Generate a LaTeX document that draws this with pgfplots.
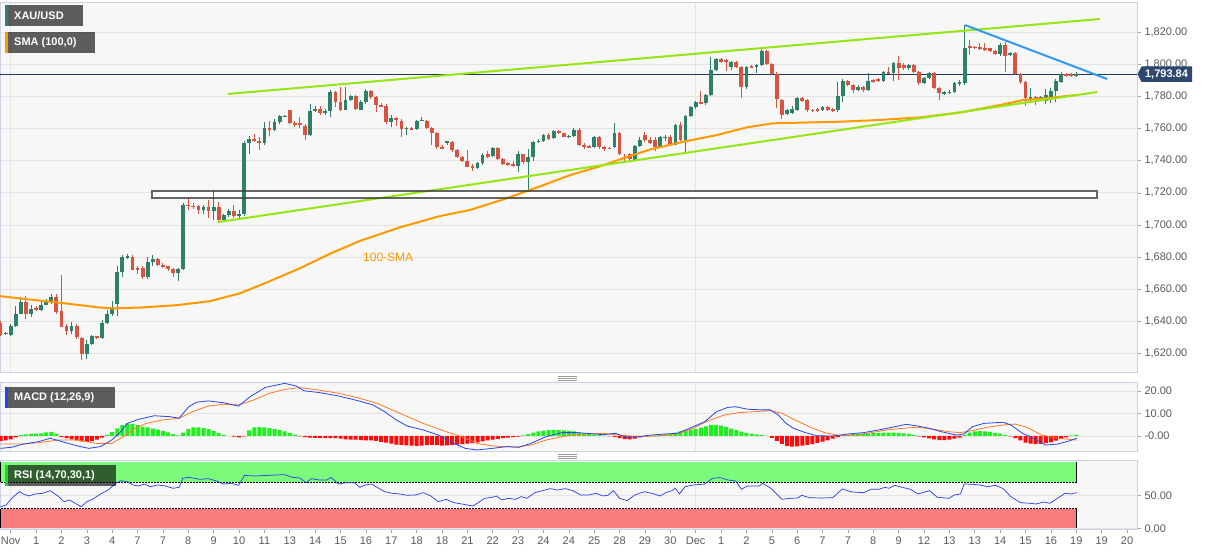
\documentclass[border=0pt]{standalone}
\usepackage{fontspec}
\setmainfont{Liberation Sans}
\usepackage{pgfplots}
\usepackage{pgfplotstable}
\pgfplotsset{compat=1.18}
\definecolor{bgc}{RGB}{247,247,247}
\definecolor{bordc}{RGB}{204,210,228}
\definecolor{gridc}{RGB}{228,228,228}
\definecolor{cup}{RGB}{46,128,104}
\definecolor{cdn}{RGB}{217,84,64}
\definecolor{sma}{RGB}{255,153,0}
\definecolor{trendg}{RGB}{150,230,20}
\definecolor{trendb}{RGB}{51,153,238}
\definecolor{navy}{RGB}{32,58,92}
\definecolor{tagc}{RGB}{44,72,110}
\definecolor{labc}{RGB}{90,90,90}
\definecolor{macdb}{RGB}{40,70,230}
\definecolor{macdo}{RGB}{255,120,40}
\definecolor{hgreen}{RGB}{30,240,30}
\definecolor{hred}{RGB}{255,10,10}
\definecolor{rsig}{RGB}{124,250,124}
\definecolor{rsir}{RGB}{249,124,124}
\definecolor{rsil}{RGB}{40,60,230}
\definecolor{rsiacc}{RGB}{40,210,40}

\pgfplotstableread{
k o h l c
-1 1632.2 1633.5 1631.5 1632.8
0 1631.7 1638.4 1630.5 1636.9
1 1636.9 1649.2 1636.3 1644.6
2 1644.6 1655 1644.2 1651.9
4 1644.2 1650.4 1642.5 1647.7
6 1646.7 1652.9 1646.3 1650.4
7 1650.4 1654 1649.8 1651.9
8 1651.9 1657.1 1650.8 1655
12 1633.8 1639.4 1632.2 1637.3
15 1619.7 1628 1616.6 1625.5
16 1625.5 1631.7 1624.9 1630.5
18 1629.7 1640.5 1629 1638.8
19 1638.8 1646.7 1638 1644.6
20 1644.6 1652.9 1643 1648.7
21 1650.8 1674.7 1643 1670.6
22 1670.6 1681 1667.5 1679.9
23 1679.9 1682 1678.9 1680.5
27 1667.5 1680.3 1666 1676.8
28 1676.8 1681 1674.1 1678.5
33 1670.2 1673.3 1665 1672.6
34 1672.6 1713.6 1671.6 1712.7
38 1709.4 1712.7 1706.5 1711.1
40 1708.6 1721.9 1702.8 1711.1
42 1703.2 1706.9 1702.3 1705.9
43 1705.9 1710 1704.8 1708.6
45 1705.5 1709 1704.4 1706.9
46 1706.9 1752 1705.5 1750.9
47 1750.9 1755.7 1744.3 1753.6
50 1750.9 1764 1750.1 1760.5
52 1759.2 1766.1 1758.8 1764
53 1764 1768.2 1763 1767.7
54 1767.3 1768.8 1767.1 1767.9
59 1756.1 1775.4 1755.7 1770.9
60 1770.9 1773.8 1770.2 1772.3
62 1769.6 1772.3 1768.2 1770.9
63 1770.9 1784.2 1767.1 1782.7
66 1771.7 1785.8 1771.3 1778.1
67 1778.1 1781.2 1777.5 1780.6
69 1771.7 1777.9 1771.3 1776.5
70 1776.5 1784.8 1775.4 1783.3
75 1764 1768.2 1761.3 1766.5
78 1760.1 1761.3 1756.3 1760.5
80 1759.9 1765.5 1759.2 1765
81 1765 1767.1 1764.6 1765.5
86 1751.5 1752.6 1750.1 1752
92 1735.6 1739.1 1734.7 1738.5
93 1738.5 1744.7 1737.6 1743.6
95 1743 1748.8 1742.2 1748
100 1737 1745.9 1732.9 1743.9
102 1739.1 1747.4 1720.4 1742.6
103 1742.6 1752.6 1740.1 1751.5
104 1751.5 1753.6 1750.9 1752.6
105 1752.2 1756.7 1751.5 1756.1
107 1753.9 1759.4 1753.3 1758.6
110 1754.9 1756.2 1754.1 1755.5
111 1755.3 1760.2 1754.5 1759.4
115 1748.4 1755.3 1748 1754.5
119 1748.4 1763.7 1748 1757.4
123 1740.5 1750 1739.7 1749.4
124 1749.4 1754.5 1748.8 1753.1
128 1748.4 1755.3 1748 1754.5
129 1754 1756 1752 1755
131 1750 1763 1749.5 1762.2
133 1752.9 1768.5 1745.6 1767.9
134 1767.9 1774 1767 1773.3
135 1773.3 1777.5 1772.5 1776.8
137 1775.7 1781.8 1775 1781
138 1781 1804.4 1780.3 1796.5
139 1796.5 1804 1795.8 1803.2
142 1798.6 1802.3 1796.5 1801.7
145 1786.1 1799 1784.5 1798.6
147 1799 1800.3 1794.4 1799.6
148 1799.6 1809.4 1799 1808.6
153 1769.3 1772 1768.5 1771.6
154 1769.5 1774.1 1769 1772
155 1771.6 1780 1771 1778.9
160 1771.6 1774 1771 1773.3
163 1771.6 1789.2 1770.5 1780.3
164 1780.3 1790.7 1776.8 1789.9
167 1784.1 1787 1783.5 1786.1
169 1784.1 1794.8 1783.6 1789.9
172 1789.9 1796.1 1789 1795.5
174 1794.4 1801.5 1789.9 1800.7
177 1797.5 1800.5 1796.8 1799.6
180 1788.2 1792 1787.5 1791.3
181 1791.3 1795.3 1790.7 1794.8
184 1782 1783.2 1781 1782.6
185 1782.4 1784 1781.5 1783
186 1783 1789 1782.4 1788.2
187 1788.2 1790 1786.5 1788.8
188 1788.2 1824.5 1787 1810
195 1806.3 1813.1 1805.5 1812.1
197 1805.9 1808 1805 1807.3
201 1778.2 1785 1775.7 1779.5
203 1778.9 1780.5 1778 1779.9
204 1777.4 1785 1775.5 1781
205 1779.9 1785.1 1776 1783.6
206 1783.6 1791 1776.5 1789.6
207 1789.2 1795.3 1788.5 1794.1
210 1792.6 1795.5 1792.2 1793.84
}\upc

\pgfplotstableread{
k o h l c
-2 1638.8 1640 1631 1631.7
3 1651.9 1656 1641.5 1644.6
5 1648.1 1649.2 1646.3 1646.7
9 1655 1657.1 1644.6 1645.6
10 1646.1 1668.9 1636.3 1636.7
11 1636.9 1638.4 1631.7 1633.8
13 1637.3 1638.4 1629 1630
14 1629.4 1630.1 1616 1619.7
17 1630.5 1630.9 1629 1629.7
24 1680.3 1681 1671.6 1672.2
25 1673.3 1674.7 1669.5 1672.4
26 1673.3 1674.1 1666 1667.5
29 1678.5 1679.5 1674.1 1675.3
30 1675.3 1676.2 1673.1 1674.1
31 1674.1 1674.7 1671.6 1672.6
32 1672.6 1673.3 1667.5 1670.2
35 1712.7 1716.9 1709.4 1711.5
36 1711.9 1713.6 1710 1711.1
37 1711.5 1712.7 1706.9 1709.4
39 1711.1 1715.6 1704.4 1708.6
41 1711.1 1714.2 1701.1 1703.2
44 1708.6 1712.7 1704.4 1705.5
48 1753.6 1756.7 1751.5 1752.2
49 1752.2 1754.7 1746.8 1750.9
51 1760.5 1765 1755.7 1759.2
55 1771.7 1771.9 1762.6 1763.4
56 1763.4 1765 1760.9 1762.6
57 1763.4 1767.1 1760.1 1762.6
58 1761.9 1763 1753 1756.1
61 1772.3 1774.4 1768.8 1769.6
64 1782.7 1783.3 1773.4 1776.5
65 1776.5 1786.2 1770.9 1771.7
68 1780.6 1781.2 1771.7 1772.3
71 1783.3 1784.2 1778.5 1779.6
72 1779.6 1780.6 1770.2 1774.8
73 1774.8 1775.8 1773.4 1774
74 1774.4 1775.4 1763 1764
76 1766.5 1767.5 1761.9 1765.7
77 1765 1766.1 1754.7 1759.9
79 1760.5 1760.9 1759.2 1759.6
82 1765 1765.5 1759.9 1760.5
83 1760.5 1761.3 1750.1 1757.2
84 1757.2 1757.8 1747.4 1748.4
85 1748.4 1749.5 1747.2 1747.8
87 1751.5 1752.2 1745.3 1746.8
88 1746.8 1747.4 1741.8 1742.6
89 1742.6 1743.2 1739.1 1739.7
90 1739.7 1746.4 1736 1736.4
91 1736.8 1738 1733.9 1736
94 1743.9 1745.9 1741.8 1742.6
96 1748 1748.8 1740.5 1741.2
97 1741.2 1741.8 1737.4 1738
98 1738.5 1739.1 1737 1737.6
99 1738 1740.1 1736 1737.2
101 1743.9 1744.3 1738 1739.1
106 1756.1 1757.2 1752.6 1753.6
108 1758.6 1759.4 1756.6 1757
109 1757 1757.4 1754.5 1754.9
112 1759.4 1760.6 1749 1750.1
113 1750.1 1751.3 1747.6 1748.8
114 1749 1749.6 1747.8 1748.4
116 1754.5 1755.3 1747.6 1748.4
117 1748.4 1749 1746.2 1747.6
118 1748 1748.8 1747.2 1747.4
120 1757.4 1758 1743.3 1743.9
121 1742.4 1744.3 1740.1 1741.8
122 1743.9 1744.7 1739.7 1741.2
125 1756.2 1758.2 1751.6 1753.1
126 1753.1 1754.5 1750.4 1751
127 1753.1 1754.5 1746.2 1748.4
130 1755 1756 1749 1750
132 1762.2 1764 1752 1752.9
136 1776.8 1783.6 1775.2 1775.7
140 1803.2 1803.8 1800.8 1801.7
141 1802.7 1803.2 1796.1 1801.3
143 1801.7 1802.3 1798 1798.6
144 1798.6 1799.2 1778.9 1786.1
146 1799 1799.8 1797.5 1798.2
149 1808.6 1809 1799.5 1800.2
150 1800.2 1800.8 1793.4 1794
151 1794 1795 1772.6 1778.2
152 1777.8 1778.5 1765.8 1768.5
156 1778.9 1779.5 1776.8 1777.4
157 1777.8 1778.2 1770.5 1771.6
158 1771.8 1772.5 1770.6 1771.3
159 1772 1772.6 1770.5 1771.2
161 1773.3 1774 1771 1771.6
162 1772.2 1772.6 1770.5 1771.2
165 1789.9 1790.5 1786.5 1787.2
166 1787.2 1787.8 1782.4 1784.1
168 1786.1 1786.8 1783 1784.1
170 1790.3 1791 1788.5 1789.2
171 1790.7 1791.3 1789 1789.9
173 1795.5 1798.2 1793.8 1794.4
175 1800.7 1805.2 1790.3 1797.5
176 1799.5 1801 1796.5 1797.5
178 1799.6 1800.2 1794.8 1795.5
179 1795.5 1796 1787.2 1788.2
182 1794.8 1795.3 1784.5 1785.1
183 1785.1 1786 1777.8 1782
189 1811.5 1815.2 1805.9 1810.6
190 1811 1811.5 1809.4 1810.2
191 1810.6 1813.1 1809 1809.6
192 1810.2 1813.1 1808.5 1809.6
193 1810 1810.5 1808 1808.6
194 1808.6 1809 1805.9 1806.5
196 1812.1 1814.2 1795.5 1805.2
198 1806.9 1807.5 1793.4 1794
199 1794 1794.4 1787.8 1789.2
200 1789.2 1789.6 1774.1 1778.9
202 1779.5 1780.2 1774.7 1778.2
208 1794.1 1794.8 1792 1792.8
209 1794.1 1794.6 1792.3 1792.8
}\dnc

\pgfplotstableread[row sep=\\]{
k v\\ -2 -2.2\\ -1 -2.0\\ 0 -1.5\\ 1 -0.6\\ 2 0.4\\ 3 0.7\\ 4 0.9\\ 5 1.0\\ 6 1.2\\ 7 1.6\\
8 1.8\\ 9 1.0\\ 10 -0.4\\ 11 -0.9\\ 12 -1.5\\ 13 -2.0\\ 14 -2.4\\ 15 -2.6\\ 16 -2.3\\ 17 -1.6\\
18 -0.7\\ 19 0.5\\ 20 1.8\\ 21 3.4\\ 22 4.8\\ 23 5.6\\ 24 5.4\\ 25 4.8\\ 26 4.2\\ 27 3.8\\
28 3.3\\ 29 2.8\\ 30 2.2\\ 31 1.6\\ 32 0.8\\ 33 0.3\\ 34 1.5\\ 35 3.0\\ 36 3.8\\ 37 3.8\\
38 3.5\\ 39 3.0\\ 40 2.2\\ 41 1.3\\ 42 0.5\\ 43 0.1\\ 44 -0.3\\ 45 -0.6\\ 46 -0.2\\ 47 2.5\\
48 3.8\\ 49 3.9\\ 50 3.8\\ 51 3.5\\ 52 3.1\\ 53 2.6\\ 54 2.0\\ 55 1.4\\ 56 0.6\\ 57 -0.2\\
58 -0.5\\ 59 -0.7\\ 60 -0.8\\ 61 -0.8\\ 62 -0.9\\ 63 -0.9\\ 64 -1.0\\ 65 -1.2\\ 66 -1.5\\ 67 -1.6\\
68 -1.6\\ 69 -1.8\\ 70 -1.9\\ 71 -2.0\\ 72 -2.2\\ 73 -2.6\\ 74 -3.0\\ 75 -3.4\\ 76 -3.8\\ 77 -4.0\\
78 -4.2\\ 79 -4.3\\ 80 -4.4\\ 81 -4.3\\ 82 -4.1\\ 83 -4.0\\ 84 -4.1\\ 85 -4.3\\ 86 -4.2\\ 87 -4.0\\
88 -3.8\\ 89 -3.6\\ 90 -3.4\\ 91 -3.2\\ 92 -2.8\\ 93 -2.4\\ 94 -2.0\\ 95 -1.6\\ 96 -1.3\\ 97 -1.0\\
98 -0.7\\ 99 -0.5\\ 100 -0.3\\ 101 0.3\\ 102 0.8\\ 103 1.5\\ 104 2.0\\ 105 2.4\\ 106 2.6\\ 107 2.7\\
108 2.6\\ 109 2.5\\ 110 2.3\\ 111 2.0\\ 112 1.6\\ 113 1.2\\ 114 0.9\\ 115 0.6\\ 116 0.4\\ 117 0.2\\
118 -0.1\\ 119 -0.4\\ 120 -1.0\\ 121 -1.4\\ 122 -1.5\\ 123 -1.2\\ 124 -0.6\\ 125 0.1\\ 126 0.2\\ 127 0.3\\
128 0.5\\ 129 0.7\\ 130 1.0\\ 131 1.5\\ 132 2.0\\ 133 2.4\\ 134 2.8\\ 135 3.2\\ 136 3.7\\ 137 4.3\\
138 4.9\\ 139 4.9\\ 140 4.6\\ 141 4.0\\ 142 3.3\\ 143 2.6\\ 144 1.9\\ 145 1.4\\ 146 1.0\\ 147 0.7\\
148 0.5\\ 149 0.2\\ 150 -0.8\\ 151 -2.2\\ 152 -3.5\\ 153 -4.4\\ 154 -4.7\\ 155 -4.6\\ 156 -4.3\\ 157 -4.0\\
158 -3.6\\ 159 -3.1\\ 160 -2.5\\ 161 -1.9\\ 162 -1.2\\ 163 -0.5\\ 164 0.3\\ 165 0.6\\ 166 0.8\\ 167 1.0\\
168 1.1\\ 169 1.2\\ 170 1.3\\ 171 1.4\\ 172 1.5\\ 173 1.5\\ 174 1.5\\ 175 1.4\\ 176 1.2\\ 177 0.9\\
178 0.5\\ 179 -0.2\\ 180 -0.6\\ 181 -1.1\\ 182 -1.5\\ 183 -1.8\\ 184 -1.8\\ 185 -1.6\\ 186 -1.2\\ 187 -0.7\\
188 0.5\\ 189 1.5\\ 190 2.1\\ 191 2.2\\ 192 2.1\\ 193 1.8\\ 194 1.4\\ 195 1.0\\ 196 0.5\\ 197 -0.2\\
198 -1.0\\ 199 -2.0\\ 200 -2.9\\ 201 -3.4\\ 202 -3.6\\ 203 -3.5\\ 204 -3.2\\ 205 -2.8\\ 206 -2.1\\ 207 -1.3\\
208 -0.6\\ 209 0.3\\ 210 0.6\\
}\hist

\pgfplotsset{
  panel/.style={
    scale only axis, width=1137pt, xmin=-2.11, xmax=221.97,
    axis background/.style={fill=bgc},
    axis line style={draw=bordc, line width=0.8pt},
    ytick pos=right, yticklabel pos=right,
    tick align=outside, major tick length=4pt,
    tick style={draw=gray!70, line width=0.6pt},
    ticklabel style={font=\fontsize{11}{13}\selectfont, text=labc},
    ymajorgrids, xmajorgrids, grid style={draw=gridc, line width=0.8pt},
    xtick={0,135}, xticklabels={}, x tick style={draw=none},
  },
  wick/.style={draw=none, mark=none, forget plot, error bars/.cd, y dir=both, y explicit, error mark=none, error bar style={draw=#1, line width=1pt}},
  body/.style={draw=none, mark=none, forget plot, error bars/.cd, y dir=both, y explicit, error mark=none, error bar style={draw=#1, line width=3.8pt}},
}

\begin{document}
\begin{tikzpicture}
\useasboundingbox (0pt,0pt) rectangle (1207pt,555pt);
\fill[white] (0pt,0pt) rectangle (1207pt,555pt);

% ---------------- main price panel ----------------
\begin{axis}[panel, at={(0pt,183pt)}, anchor=south west, height=370pt,
  ymin=1608.35, ymax=1838.9, ytick={1620,1640,...,1820},
  /pgf/number format/fixed, /pgf/number format/fixed zerofill,
  /pgf/number format/precision=2, /pgf/number format/1000 sep={,},
  /pgf/number format/assume math mode=true]
\addplot[fill=white, draw=none, forget plot] coordinates {(27.85,1716.7) (214.1,1716.7) (214.1,1721.1) (27.85,1721.1)} -- cycle;
\addplot[navy, line width=0.8pt, forget plot] coordinates {(-3,1793.84) (225,1793.84)};
\addplot[wick=cup] table[x=k, y expr={(\thisrow{h}+\thisrow{l})/2}, y error expr={(\thisrow{h}-\thisrow{l})/2}] {\upc};
\addplot[wick=cdn] table[x=k, y expr={(\thisrow{h}+\thisrow{l})/2}, y error expr={(\thisrow{h}-\thisrow{l})/2}] {\dnc};
\addplot[body=cup] table[x=k, y expr={(\thisrow{o}+\thisrow{c})/2}, y error expr={max(abs(\thisrow{c}-\thisrow{o})/2,0.35)}] {\upc};
\addplot[body=cdn] table[x=k, y expr={(\thisrow{o}+\thisrow{c})/2}, y error expr={max(abs(\thisrow{c}-\thisrow{o})/2,0.35)}] {\dnc};
\addplot[sma, line width=2pt, forget plot] coordinates {
(-2.1,1655.6) (3.8,1653.5) (9.7,1651.5) (17.6,1648.5) (20.2,1648) (25.5,1648.5) (32.8,1650)
(39.3,1652.5) (45.2,1657.4) (51.1,1665) (57.0,1673) (62.9,1682) (68.8,1690) (76.7,1698.5)
(84.6,1705.5) (90.5,1709.3) (97.8,1716.6) (104.3,1724) (110.2,1731) (116.1,1736.5) (120.7,1741.5)
(126.0,1747) (132.5,1751.8) (139.2,1756) (145.1,1760.8) (150.2,1763.3) (163.4,1764.3) (171.3,1765.4)
(179.2,1767) (187.1,1770) (195,1774.7) (199.5,1777.8) (204.2,1778.9) (210.2,1781)};
\addplot[trendg, line width=2pt, forget plot] coordinates {(42.8,1781.6) (214.7,1828.3)};
\addplot[trendg, line width=2pt, forget plot] coordinates {(40.9,1701.8) (214.1,1782.8)};
\addplot[trendb, line width=2pt, forget plot] coordinates {(188.1,1824.5) (216.1,1790.9)};
\addplot[draw=black!75, draw opacity=0.8, line width=1.6pt, forget plot] coordinates {(27.85,1716.7) (214.1,1716.7) (214.1,1721.1) (27.85,1721.1)} -- cycle;
\node[text=sma, font=\fontsize{12}{14}\selectfont] at (axis cs:74.4,1680) {100-SMA};
\end{axis}

% ---------------- MACD panel ----------------
\begin{axis}[panel, at={(0pt,104pt)}, anchor=south west, height=69pt,
  ymin=-6.67, ymax=24, ytick={0,10,20}, yticklabels={-0.00,10.00,20.00}]
\addplot[ybar, bar width=4pt, bar shift=0pt, fill=hgreen, draw=none, forget plot,
  y filter/.expression={y>0 ? y : nan}] table[x=k, y=v] {\hist};
\addplot[ybar, bar width=4pt, bar shift=0pt, fill=hred, draw=none, forget plot,
  y filter/.expression={y<0 ? y : nan}] table[x=k, y=v] {\hist};
\addplot[macdo, line width=0.8pt, forget plot] coordinates {
(-2.0,-3.6) (1.8,-3.6) (5.5,-3.0) (9.3,-1.8) (13.1,-1.8) (16.9,-3.3) (19.9,-3.3) (22.2,-0.3)
(24.5,3.4) (26.7,5.6) (29.8,7.1) (33.2,7.9) (35.8,10.8) (38.9,13.3) (41.9,14.1) (44.9,13.8)
(47.9,16.0) (51.0,19.0) (54.0,20.7) (57.0,21.5) (60.8,20.4) (64.6,19.0) (68.4,17.0) (72.2,14.5)
(76.7,10.1) (81.3,5.6) (85.8,1.9) (88.9,-0.3) (91.9,-3.3) (94.9,-4.4) (99.5,-5.0) (102.5,-4.0)
(105.5,-1.8) (108.6,-0.3) (111.6,0.7) (116.7,1.2) (120,0.4) (123.8,-0.3) (127.6,0.0) (131.4,0.9)
(134.5,3.4) (137.5,6.8) (140.6,9.3) (143.6,10.4) (146.7,10.8) (149.7,11.3) (152.0,10.1) (154.3,7.4)
(157.4,4.1) (160.4,1.5) (163.5,0.1) (166.6,0.4) (169.6,1.5) (172.7,2.7) (175.7,3.4) (178.8,3.9)
(181.8,3.0) (184.9,1.9) (187.2,1.5) (189.5,2.4) (192.5,3.9) (195.6,4.9) (197.9,5.3) (200.2,3.9)
(203.2,0.4) (206.3,-1.0) (210.1,-1.8)};
\addplot[macdb, line width=0.8pt, forget plot] coordinates {
(-2.0,-5.5) (0.2,-5.0) (2.5,-3.6) (5.5,-2.5) (7.8,-1.0) (10.1,-2.5) (13.1,-4.4) (15.4,-5.5)
(17.7,-4.7) (19.9,-1.8) (21.4,1.2) (23.0,5.6) (25.2,7.4) (28.3,9.0) (31.3,8.6) (33.2,7.9)
(35.1,13.0) (36.6,15.0) (38.9,15.6) (41.9,14.8) (44.9,13.3) (47.2,17.5) (50.2,21.6) (54.0,23.4)
(56.3,22.2) (57.8,20.1) (60.8,19.3) (64.6,17.8) (68.4,15.7) (71.4,13.8) (73.7,10.8) (76.0,7.1)
(78.2,4.4) (81.3,2.7) (84.3,0.4) (87.3,-3.3) (89.6,-5.5) (91.9,-6.2) (94.9,-5.5) (97.9,-4.7)
(100.2,-5.0) (102.5,-3.3) (105.5,-0.3) (108.6,1.5) (111.6,1.5) (114.6,1.0) (116.7,0.6) (119.2,1.2)
(121.5,-0.7) (123.8,-0.3) (126.1,0.4) (129.1,0.9) (131.4,1.2) (134.5,4.1) (136.8,6.4) (139.1,10.8)
(141.3,12.7) (142.9,13.0) (145.2,11.9) (148.2,11.6) (149.7,11.6) (151.3,9.3) (152.8,5.6) (154.3,3.4)
(156.6,1.5) (158.9,0.1) (162,0.0) (165,0.9) (168.1,1.5) (171.1,2.7) (174.2,4.1) (176.5,5.2)
(178.8,4.4) (181.1,3.4) (183.4,1.9) (186.4,0.4) (187.9,0.9) (189.5,4.1) (191.8,5.6) (195.6,6.1)
(197.1,4.9) (199.4,1.2) (200.9,-0.3) (204,-4.0) (206.3,-3.6) (208.6,-2.2) (210.1,-1.0)};
\end{axis}

% ---------------- RSI panel ----------------
\begin{axis}[panel, at={(0pt,25.7pt)}, anchor=south west, height=68.6pt,
  ymin=-1.5, ymax=102.4, ytick={0,50}, yticklabels={0.00,50.00},
  xmajorgrids=false, xtick pos=left, x tick style={draw=gray!70},
  xtick={0,5,...,220},
  xticklabels={Nov,1,2,3,4,7,7,8,9,10,11,13,14,15,16,17,18,18,21,22,23,24,24,25,28,29,30,Dec,1,2,5,6,7,7,8,9,12,13,13,14,15,16,19,19,20},
  extra x ticks={0,135}, extra x tick labels={},
  extra x tick style={xmajorgrids=true, major tick length=0pt}]
\addplot[fill=rsig, draw=none, forget plot] coordinates {(-3,70) (210.1,70) (210.1,100) (-3,100)} -- cycle;
\addplot[fill=rsir, draw=none, forget plot] coordinates {(-3,0) (210.1,0) (210.1,30) (-3,30)} -- cycle;
\addplot[black, line width=0.6pt, dash pattern=on 2pt off 1pt, forget plot] coordinates {(-3,70) (210.1,70)};
\addplot[black, line width=0.6pt, dash pattern=on 2pt off 1pt, forget plot] coordinates {(-3,30) (210.1,30)};
\addplot[black, line width=0.8pt, forget plot] coordinates {(210.1,70) (210.1,100)};
\addplot[black, line width=0.8pt, forget plot] coordinates {(210.1,0) (210.1,30)};
\addplot[black, line width=0.8pt, forget plot] coordinates {(-1.98,70) (-1.98,100)};
\addplot[black, line width=0.8pt, forget plot] coordinates {(-1.98,0) (-1.98,30)};
\addplot[rsil, line width=0.7pt, forget plot] coordinates {
(-2.0,32.7) (-0.9,35.3) (0.2,45.4) (1.7,55.5) (2.5,52) (3.6,49) (4.8,52) (6.3,53) (7.8,57) (9.3,49)
(10.5,40.3) (11.6,42.9) (12.7,37.9) (13.9,32.7) (15.0,40.3) (16.1,43.9) (17.7,52) (19.2,58) (20.7,68.2)
(21.8,72.1) (23.0,70.6) (24.1,65.6) (25.2,64.1) (26.4,67.1) (27.5,63) (29.0,65.6) (30.5,64.1) (32.0,60.6)
(33.2,62.1) (33.9,75.8) (35.1,77.3) (37.3,74.2) (38.9,75.2) (40.4,72.1) (41.9,67.1) (43.4,68.2) (44.9,65.1)
(46.1,80.3) (48.0,79.2) (51.0,80.3) (54.0,81.3) (55.5,77.3) (57.0,76.2) (58.2,69.1) (59.3,75.2) (60.8,73.2)
(62.3,73.2) (63.1,77.3) (64.6,67.1) (66.1,69.1) (67.7,69.1) (68.8,62.1) (69.9,65.6) (71.1,67.1) (72.2,62.1)
(73.7,55.5) (75.2,53) (76.7,52) (78.2,50) (79.8,50.5) (81.3,54) (82.8,49) (84.3,40.3) (85.8,43.9) (87.3,38.9)
(88.9,36.8) (91.1,33.8) (93.4,45.4) (94.9,47) (95.7,49) (96.8,42.9) (98.0,45.4) (99.5,43.9) (100.6,48)
(101.7,45.4) (103.3,54) (104.8,57) (106.3,60.1) (107.8,58) (109.3,60.1) (110.8,57) (112.3,50.5) (113.9,50.5)
(115.4,53) (116.7,49) (117.7,50) (118.8,57) (120,45.4) (121.5,41.9) (123,50.5) (124.9,55.5) (126.8,52)
(128,49) (129.1,54) (130.3,57) (131,60.6) (131.8,52) (132.9,63) (134.5,65.6) (136.8,67.1) (138.3,75.8)
(139.8,76.8) (141.3,73.2) (142.9,71.7) (144,59.1) (145.2,64.1) (147.5,64.1) (148.2,68.2) (149.8,60.6)
(152,43.9) (153.6,45.4) (155.1,45.9) (155.9,50) (157.4,46.4) (159.7,45.9) (162,46.4) (163.9,59.6)
(165.8,55) (168.1,54) (169.6,59.1) (171.1,59.1) (172.3,62.1) (173.1,60.6) (174.2,65.1) (175.7,62.1)
(177.3,59.1) (178.8,52) (181.1,57) (182.6,47) (184.9,45.4) (186,50.5) (187.2,52) (187.9,67.1) (189.5,66.7)
(191,65.6) (192.5,63) (194.1,65.1) (195.6,60.1) (197.1,48) (199,38.9) (200.9,37.9) (202.1,36.8)
(203.6,39.9) (204.8,37.9) (206.3,45.4) (207.8,53) (209,52) (210.1,54)};
\end{axis}

% ---------------- overlays ----------------
\begin{scope}[x=1pt,y=1pt]
\fill[black, fill opacity=0.62] (5,529) rectangle (83,550);
\fill[cup] (5,529) rectangle (7.5,550);
\node[anchor=west, text=white, font=\bfseries\fontsize{11}{13}\selectfont, inner sep=0pt] at (14,539.5) {XAU/USD};
\fill[black, fill opacity=0.62] (5,502) rectangle (95,523);
\fill[sma] (5,502) rectangle (7.5,523);
\node[anchor=west, text=white, font=\bfseries\fontsize{11}{13}\selectfont, inner sep=0pt] at (14,512.5) {SMA (100,0)};
\fill[black, fill opacity=0.62] (5,147) rectangle (115,168);
\fill[macdb] (5,147) rectangle (7.5,168);
\node[anchor=west, text=white, font=\bfseries\fontsize{11}{13}\selectfont, inner sep=0pt] at (14,157.5) {MACD (12,26,9)};
\fill[black, fill opacity=0.62] (5,69) rectangle (116,90);
\fill[rsiacc] (5,69) rectangle (7.5,90);
\node[anchor=west, text=white, font=\bfseries\fontsize{11}{13}\selectfont, inner sep=0pt] at (14,79.5) {RSI (14,70,30,1)};

\fill[tagc] (1137.5,480.7) -- (1141.5,488.5) -- (1192,488.5) -- (1192,473) -- (1141.5,473) -- cycle;
\node[text=white, font=\bfseries\fontsize{11}{13}\selectfont, inner sep=0pt] at (1166.5,480.7) {1,793.84};

\foreach \yy in {175,177,179,96.5,98.5,100.5} {\draw[gray!80, line width=0.6pt] (558,\yy) -- (577,\yy);}
\end{scope}
\end{tikzpicture}
\end{document}
